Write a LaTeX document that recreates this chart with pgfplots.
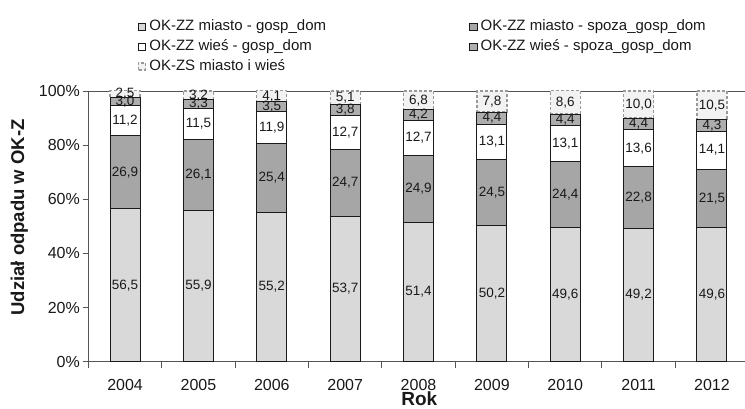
\documentclass[border=0pt]{standalone}
\usepackage{pgfplots}
\pgfplotsset{compat=1.18}
\usepackage{pgfplotstable}
\usepackage{fontspec}
\setmainfont{Liberation Sans}
\definecolor{cA}{HTML}{D9D9D9}
\definecolor{cB}{HTML}{A6A6A6}
\definecolor{cC}{HTML}{FFFFFF}
\definecolor{cD}{HTML}{ADADAD}
\definecolor{cE}{HTML}{F2F2F2}
\definecolor{edge}{HTML}{1A1A1A}
\definecolor{axl}{HTML}{555555}

\pgfplotstableread{
x a b c d e
0 56.5 26.9 11.2 3.0 2.5
1 55.9 26.1 11.5 3.3 3.2
2 55.2 25.4 11.9 3.5 4.1
3 53.7 24.7 12.7 3.8 5.1
4 51.4 24.9 12.7 4.2 6.8
5 50.2 24.5 13.1 4.4 7.8
6 49.6 24.4 13.1 4.4 8.6
7 49.2 22.8 13.6 4.4 10.0
8 49.6 21.5 14.1 4.3 10.5
}\data

\pgfplotstableread{
x ya la yb lb yc lc yd ld ye le
0 28.25 56,5 69.95 26,9 89.00 11,2 96.10 3,0 98.85 2,5
1 27.95 55,9 68.95 26,1 87.75 11,5 95.15 3,3 98.40 3,2
2 27.60 55,2 67.90 25,4 86.55 11,9 94.25 3,5 98.05 4,1
3 26.85 53,7 66.05 24,7 84.75 12,7 93.00 3,8 97.45 5,1
4 25.70 51,4 63.85 24,9 82.65 12,7 91.10 4,2 96.60 6,8
5 25.10 50,2 62.45 24,5 81.25 13,1 90.00 4,4 96.10 7,8
6 24.80 49,6 61.80 24,4 80.55 13,1 89.30 4,4 95.80 8,6
7 24.60 49,2 60.60 22,8 78.80 13,6 87.80 4,4 95.00 10,0
8 24.80 49,6 60.35 21,5 78.15 14,1 87.35 4,3 94.75 10,5
}\labels

\begin{document}
\begin{tikzpicture}
\begin{axis}[
  name=main,
  scale only axis, width=656.6pt, height=270.7pt,
  xmin=-0.5, xmax=8.45, ymin=0, ymax=100,
  ybar stacked, bar width=30pt,
  axis x line*=bottom, axis y line*=left,
  axis line style={draw=axl, line width=0.9pt},
  tick align=outside,
  xtick={0,...,8},
  xticklabels={2004,2005,2006,2007,2008,2009,2010,2011,2012},
  major x tick style={draw=none},
  minor xtick={-0.5,0.5,...,8.5},
  minor x tick style={draw=axl, line width=0.9pt},
  minor tick length=6pt,
  ytick={0,20,...,100},
  ytick style={draw=axl, line width=0.9pt},
  major tick length=5pt,
  yticklabel={\pgfmathprintnumber{\tick}\%},
  /pgf/number format/assume math mode=true,
  ticklabel style={font=\fontsize{16}{19}\selectfont, text=black!90},
  xticklabel style={inner ysep=1pt, yshift=-11pt},
  extra y ticks={100},
  extra y tick labels={},
  extra y tick style={grid=major, major grid style={draw=axl, line width=0.9pt}, tick style={draw=none}},
  xlabel={Rok},
  ylabel={Udział odpadu w OK-Z},
  xlabel style={at={(axis description cs:0.504,-0.138)}, anchor=center, inner sep=0pt, font=\fontsize{19}{22}\selectfont\bfseries, text=black!90},
  ylabel style={at={(axis description cs:-0.1051,0.533)}, rotate=0, anchor=center, font=\fontsize{18.5}{22}\selectfont\bfseries, text=black!90},
  legend columns=2,
  legend cell align=left,
  legend image code/.code={\draw[#1] (0pt,-3.5pt) rectangle (7.5pt,3.5pt);},
  legend style={draw=none, fill=none, at={(0,1)}, anchor=north west,
    xshift=49pt, yshift=74pt, inner sep=0pt,
    font=\fontsize{15}{18}\selectfont, text=black!90,
    nodes={text height=11pt, text depth=3.5pt, inner ysep=2.6pt, inner xsep=3pt},
    /tikz/every even column/.append style={column sep=140pt}},
]
\addplot[fill=cA, draw=edge, line width=1pt] table[x=x, y=a]{\data};
\addlegendentry{OK-ZZ miasto - gosp\_dom}
\addplot[fill=cB, draw=edge, line width=1pt] table[x=x, y=b]{\data};
\addlegendentry{OK-ZZ miasto - spoza\_gosp\_dom}
\addplot[fill=cC, draw=edge, line width=1pt] table[x=x, y=c]{\data};
\addlegendentry{OK-ZZ wieś - gosp\_dom}
\addplot[fill=cD, draw=edge, line width=1pt] table[x=x, y=d]{\data};
\addlegendentry{OK-ZZ wieś - spoza\_gosp\_dom}
\addplot[fill=cE, draw=black!40, line width=1.3pt, dash pattern=on 3pt off 2pt] table[x=x, y=e]{\data};
\addlegendentry{OK-ZS miasto i wieś}
\end{axis}
\begin{axis}[
  scale only axis, width=656.6pt, height=270.7pt,
  xmin=-0.5, xmax=8.45, ymin=0, ymax=100,
  hide axis, clip=false,
  point meta=explicit symbolic,
  nodes near coords,
  every node near coord/.append style={anchor=center, inner sep=0pt,
    font=\fontsize{13.5}{15}\selectfont, text=black!90},
]
\addplot[draw=none, mark=none] table[x=x, y=ya, meta=la]{\labels};
\addplot[draw=none, mark=none] table[x=x, y=yb, meta=lb]{\labels};
\addplot[draw=none, mark=none] table[x=x, y=yc, meta=lc]{\labels};
\addplot[draw=none, mark=none] table[x=x, y=yd, meta=ld]{\labels};
\addplot[draw=none, mark=none] table[x=x, y=ye, meta=le]{\labels};
\end{axis}
\pgfresetboundingbox
\path ([xshift=-88.4pt,yshift=-47.3pt]main.south west) rectangle ([xshift=656.6pt,yshift=91pt]main.north west);
\end{tikzpicture}
\end{document}
